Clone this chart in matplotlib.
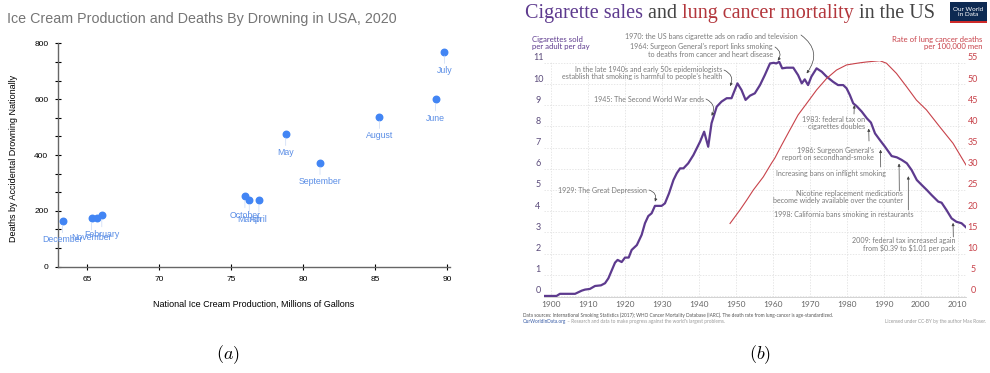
import numpy as np
import matplotlib
matplotlib.use('Agg')
import matplotlib.pyplot as plt
import matplotlib.transforms as mtransforms
from matplotlib.ticker import MultipleLocator
from matplotlib.patches import Rectangle

plt.rcParams['mathtext.fontset'] = 'cm'

W, H = 990, 373

# ---- (a) ice cream production vs drowning deaths
months = ['January', 'February', 'March', 'April', 'May', 'June', 'July',
          'August', 'September', 'October', 'November', 'December']
ice_cream = [65.74, 66.04, 76.27, 76.94, 78.8, 89.2, 89.81, 85.3, 81.18, 75.97, 65.33, 63.32]
drownings = [173, 185, 238, 238, 476, 600, 770, 537, 372, 253, 173, 164]
hidden_labels = ['January']

# ---- (b) cigarette sales and lung cancer
cig_years = [1898.4, 1901.5, 1902.4, 1906.5, 1908.3, 1909.2, 1910.5, 1911.9, 1913.5, 1914.6,
             1915.5, 1916.4, 1917.3, 1918.0, 1919.1, 1920.0, 1921.0, 1921.8, 1923.2, 1924.5,
             1925.4, 1926.3, 1927.2, 1928.1, 1929.9, 1930.8, 1931.9, 1933.1, 1934.0, 1934.9,
             1935.8, 1937.1, 1938.5, 1940.3, 1941.4, 1942.5, 1943.4, 1944.8, 1946.1, 1947.5,
             1948.8, 1950.4, 1951.5, 1952.6, 1953.8, 1955.1, 1956.5, 1957.8, 1959.2, 1960.2,
             1960.9, 1961.7, 1962.5, 1963.7, 1965.5, 1966.8, 1967.8, 1968.6, 1969.5, 1970.4,
             1971.8, 1973.2, 1974.5, 1976.3, 1977.6, 1979.0, 1979.9, 1980.8, 1981.7, 1982.6,
             1984.0, 1985.4, 1986.5, 1987.6, 1988.9, 1990.3, 1992.1, 1993.5, 1994.8, 1996.2,
             1997.5, 1998.9, 2000.2, 2001.6, 2002.9, 2004.7, 2005.6, 2006.9, 2008.3, 2009.6,
             2011.0, 2012.2]
cig_sales = [0.0, 0.0, 0.1, 0.1, 0.25, 0.3, 0.33, 0.47, 0.5, 0.6,
             0.83, 1.2, 1.57, 1.7, 1.6, 1.81, 1.81, 2.17, 2.4, 2.88,
             3.43, 3.77, 3.9, 4.25, 4.25, 4.37, 4.84, 5.47, 5.79, 6.02,
             6.02, 6.26, 6.65, 7.28, 7.75, 7.04, 8.15, 8.93, 9.17, 9.33,
             9.33, 10.03, 9.72, 9.25, 9.45, 9.56, 9.95, 10.42, 10.97, 11.0,
             10.97, 11.05, 10.74, 10.77, 10.77, 10.42, 10.03, 10.22, 9.95, 10.35,
             10.74, 10.58, 10.35, 10.1, 9.95, 9.95, 9.8, 9.48, 9.09, 8.96,
             8.7, 8.38, 8.18, 7.67, 7.36, 7.04, 6.6, 6.54, 6.42, 6.26,
             5.94, 5.47, 5.24, 5.0, 4.76, 4.45, 4.4, 4.06, 3.66, 3.5,
             3.43, 3.24]
lc_years = [1948.4, 1951.1, 1952.9, 1954.7, 1957.4, 1959.6, 1960.5, 1962.3, 1964.6, 1966.8,
            1969.1, 1971.8, 1974.5, 1977.2, 1979.9, 1982.0, 1983.5, 1985.3, 1988.9, 1990.7,
            1993.4, 1996.1, 1998.8, 2001.5, 2005.1, 2008.7, 2012.2]
lc_deaths = [17.1, 20.3, 22.6, 25.0, 28.1, 31.3, 32.5, 35.5, 39.2, 42.7,
             45.4, 48.6, 51.3, 53.3, 54.5, 54.8, 55.0, 55.2, 55.5, 54.9,
             52.5, 49.4, 46.2, 43.9, 39.9, 36.0, 30.9]

PURPLE = '#5d3a8e'
RED = '#c8424a'


def fpx(x, y):
    return (x / W, 1 - y / H)


fig = plt.figure(figsize=(W / 100, H / 100), dpi=100)

# ================= panel (a)
ax = fig.add_axes([58 / W, 1 - 266.7 / H, (450 - 58) / W, (266.7 - 43.3) / H])
ax.set_xlim(63.0, 90.2)
ax.set_ylim(0, 800)
ax.scatter(ice_cream, drownings, s=22, color='#4285f4', zorder=3, clip_on=False)
for m, xv, yv in zip(months, ice_cream, drownings):
    if m in hidden_labels:
        continue
    ax.annotate(m, (xv, yv), xytext=(0, -13.7), textcoords='offset points',
                ha='center', va='center', fontsize=6.3, color='#5b8ee6',
                family='Liberation Sans',
                arrowprops=dict(arrowstyle='-', color='#c9d9f5', lw=0.5, shrinkA=0, shrinkB=3))
for s in ['top', 'right']:
    ax.spines[s].set_visible(False)
for s in ['left', 'bottom']:
    ax.spines[s].set_color('#666666')
    ax.spines[s].set_linewidth(1.0)
ax.set_xticks([65, 70, 75, 80, 85, 90])
ax.set_yticks([0, 200, 400, 600, 800])
ax.yaxis.set_minor_locator(MultipleLocator(200 / 3))
ax.tick_params(which='both', direction='inout', length=5, width=0.8, color='black',
               labelsize=6, pad=4.5)
for lbl in ax.get_xticklabels() + ax.get_yticklabels():
    lbl.set_family('Liberation Sans')
ax.set_xlabel('National Ice Cream Production, Millions of Gallons', fontsize=6.5,
              family='Liberation Sans', labelpad=12)
fig.text(*fpx(14, 158), 'Deaths by Accidental Drowning Nationally', rotation=90,
         fontsize=6.5, family='Liberation Sans', ha='center', va='center')
fig.text(*fpx(7, 19), 'Ice Cream Production and Deaths By Drowning in USA, 2020',
         fontsize=10.3, color='#757575', family='Liberation Sans', va='center')

# ================= panel (b)
axb = fig.add_axes([544 / W, 1 - 297 / H, (966 - 544) / W, (297 - 60.7) / H])
axb.set_xlim(1898.1, 2012.2)
axb.set_ylim(-0.05, 11.1)
axr = axb.twinx()
axr.set_ylim(-0.25, 55.5)

axb.plot(cig_years, cig_sales, color=PURPLE, lw=1.6, zorder=3, solid_joinstyle='round')
axr.plot(lc_years, lc_deaths, color=RED, lw=0.8, zorder=3)

axb.set_xticks(range(1900, 2011, 10))
axb.set_yticks(range(0, 12))
axr.set_yticks(range(0, 56, 5))
axb.grid(True, color='#dddddd', lw=0.5, ls=(0, (2, 2)))
for a in (axb, axr):
    for s in a.spines.values():
        s.set_visible(False)
axb.spines['bottom'].set_visible(True)
axb.spines['bottom'].set_color('#cccccc')
axb.spines['bottom'].set_linewidth(0.6)
axb.tick_params(axis='both', length=0)
axr.tick_params(axis='y', length=0)
axb.tick_params(axis='x', labelsize=6, labelcolor='#666666', pad=3)
axb.tick_params(axis='y', labelsize=6.5, labelcolor='#5b4b7b', pad=4.3)
axr.tick_params(axis='y', labelsize=6.5, labelcolor=RED, pad=5)
up = mtransforms.ScaledTranslation(0, 6 / 100, fig.dpi_scale_trans)
for lbl in axb.get_xticklabels():
    lbl.set_family('Lato')
for lbl in axb.get_yticklabels():
    lbl.set_family('Lato')
    lbl.set_ha('center')
    lbl.set_transform(lbl.get_transform() + up)
for lbl in axr.get_yticklabels():
    lbl.set_family('Lato')
    lbl.set_ha('center')
    lbl.set_transform(lbl.get_transform() + up)

fig.text(*fpx(532, 43), 'Cigarettes sold\nper adult per day', fontsize=5.6, color=PURPLE,
         family='Lato', ha='left', va='center', linespacing=1.15)
fig.text(*fpx(982, 43), 'Rate of lung cancer deaths\nper 100,000 men', fontsize=5.6,
         color=RED, family='Lato', ha='right', va='center', linespacing=1.15)

# annotations: text (px x, px y, align), arrow start px, arrow tip (year, value), curvature
notes = [
    ('1970: the US bans cigarette ads on radio and television', 798, 36, 'right', (801, 35), (1969.1, 10.5), -0.5),
    ("1964: Surgeon General's report links smoking\nto deaths from cancer and heart disease", 773, 50.5, 'right', (775, 47), (1961.3, 11.1), -0.5),
    ("In the late 1940s and early 50s epidemiologists\nestablish that smoking is harmful to people's health", 722, 72.8, 'right', (724, 70), (1948.4, 9.9), -0.5),
    ('1945: The Second World War ends', 704, 100, 'right', (706, 99), (1943.4, 8.5), -0.5),
    ('1929: The Great Depression', 647, 191, 'right', (649, 190), (1928.1, 4.45), -0.5),
    ('1983: federal tax on\ncigarettes doubles', 865, 123, 'right', (854, 114), (1982.0, 9.0), 0),
    ("1986: Surgeon General's\nreport on secondhand-smoke", 874, 154, 'right', (869, 141), (1985.9, 7.9), 0),
    ('Increasing bans on inflight smoking', 886, 173.3, 'right', (880.7, 167), (1989.1, 6.9), 0),
    ('Nicotine replacement medications\nbecome widely available over the counter', 903, 197.3, 'right', (899.3, 191), (1994.1, 6.25), 0),
    ('1998: California bans smoking in restaurants', 913.3, 214, 'right', (908.3, 210), (1996.6, 5.65), 0),
    ('2009: federal tax increased again\nfrom \\$0.39 to \\$1.01 per pack', 955, 244.8, 'right', (953.3, 237), (2008.7, 3.45), 0),
]
for txt, tx, ty, ha, start, tip, rad in notes:
    fig.text(*fpx(tx, ty), txt, fontsize=5.1, color='#7a7a7a', family='Lato',
             ha=ha, va='center', linespacing=1.05)
    axb.annotate('', xy=tip, xycoords='data', xytext=fpx(*start), textcoords='figure fraction',
                 arrowprops=dict(arrowstyle='-|>', color='#444444', lw=0.5, mutation_scale=4,
                                 shrinkA=0, shrinkB=0, connectionstyle=f'arc3,rad={rad}'),
                 annotation_clip=False)

# multi-coloured title
pieces = [('Cigarette sales', PURPLE), (' and ', '#444444'),
          ('lung cancer mortality', '#b3363c'), (' in the US', '#444444')]
renderer = fig.canvas.get_renderer()
x0 = 525 / W
for txt, col in pieces:
    t = fig.text(x0, 1 - 13.5 / H, txt, fontsize=14.5, color=col, family='Liberation Serif',
                 va='center', ha='left')
    bb = t.get_window_extent(renderer=renderer)
    x0 = bb.x1 / W

# OWID logo
fig.patches.append(Rectangle(fpx(950, 23), 37 / W, 20.5 / H, transform=fig.transFigure,
                             facecolor='#0d2a52', edgecolor='none'))
fig.patches.append(Rectangle(fpx(950, 23), 37 / W, 2.5 / H, transform=fig.transFigure,
                             facecolor='#ce2a2a', edgecolor='none'))
fig.text(*fpx(968.5, 12), 'Our World\nin Data', fontsize=4.6, color='white', family='Lato',
         ha='center', va='center', linespacing=1.0)

# footer
fig.text(*fpx(523, 315), 'Data sources: International Smoking Statistics (2017); WHO Cancer Mortality '
         'Database (IARC). The death rate from lung-cancer is age-standardized.',
         fontsize=3.4, color='#555555', family='Lato', va='center')
t = fig.text(*fpx(523, 322), 'OurWorldInData.org', fontsize=3.4, color='#3b5fa8', family='Lato',
             va='center')
bb = t.get_window_extent(renderer=renderer)
fig.text(bb.x1 / W, 1 - 322 / H, " \u2013 Research and data to make progress against the world's largest problems.",
         fontsize=3.4, color='#999999', family='Lato', va='center')
fig.text(*fpx(986.7, 322), 'Licensed under CC-BY by the author Max Roser.', fontsize=3.4,
         color='#999999', family='Lato', va='center', ha='right')

# sub-figure labels
fig.text(*fpx(228, 355), r'$(a)$', fontsize=13, ha='center', va='center')
fig.text(*fpx(760, 355), r'$(b)$', fontsize=13, ha='center', va='center')

fig.savefig('out.png', dpi=100)
